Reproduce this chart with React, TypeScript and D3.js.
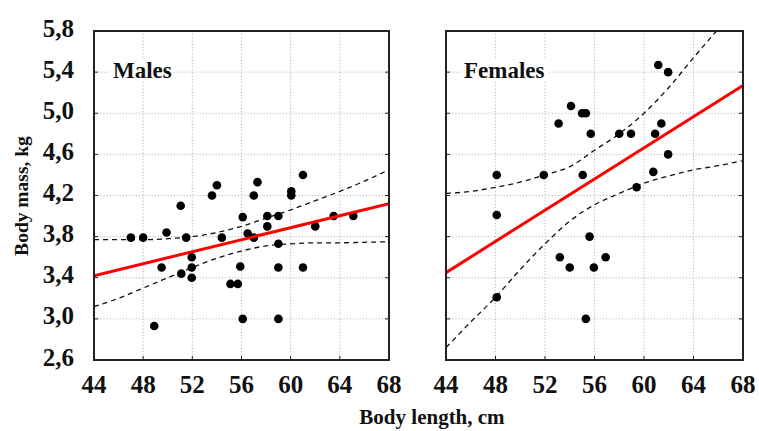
import React, { useEffect, useRef } from "react";
import * as d3 from "d3";

// axis ticks
const xTicks = [44, 48, 52, 56, 60, 64, 68];
const yTicks = [2.6, 3.0, 3.4, 3.8, 4.2, 4.6, 5.0, 5.4, 5.8];

// males: body length (cm), body mass (kg)
const malesLength = [
  47.0, 48.0, 49.9, 51.5, 51.05, 49.5, 48.9, 51.1, 51.95, 51.95, 51.95, 53.6,
  54.0, 54.4, 55.1, 55.7, 56.1, 55.9, 56.1, 56.5, 57.0, 57.0, 57.3, 58.1, 58.1,
  59.0, 59.0, 59.0, 59.0, 60.05, 60.05, 61.0, 61.0, 62.0, 63.5, 65.1,
];
const malesMass = [
  3.79, 3.79, 3.84, 3.79, 4.1, 3.5, 2.93, 3.44, 3.6, 3.5, 3.4, 4.2, 4.3, 3.79,
  3.34, 3.34, 3.99, 3.51, 3.0, 3.83, 3.79, 4.2, 4.33, 4.0, 3.9, 4.0, 3.73, 3.5,
  3.0, 4.24, 4.2, 4.4, 3.5, 3.9, 4.0, 4.0,
];

// females
const femalesLength = [
  48.1, 51.9, 53.1, 54.1, 55.0, 55.3, 55.05, 55.7, 58.0, 58.95, 60.9, 61.4,
  61.15, 61.95, 61.95, 60.75, 59.4, 48.1, 48.1, 53.2, 54.0, 55.6, 55.95, 56.9,
  55.3,
];
const femalesMass = [
  4.4, 4.4, 4.9, 5.07, 5.0, 5.0, 4.4, 4.8, 4.8, 4.8, 4.8, 4.9, 5.47, 5.4, 4.6,
  4.43, 4.28, 4.01, 3.21, 3.6, 3.5, 3.8, 3.5, 3.6, 3.0,
];

// regression lines (ends) and confidence bands
const fitX = [44, 68];
const malesFit = [3.42, 4.12];
const femalesFit = [3.45, 5.27];

const bandX = [44, 46, 48, 50, 52, 54, 56, 58, 60, 62, 64, 66, 68];
const malesUpper = [3.77, 3.77, 3.77, 3.78, 3.8, 3.84, 3.9, 3.98, 4.06, 4.15, 4.24, 4.34, 4.45];
const malesLower = [3.12, 3.2, 3.3, 3.4, 3.5, 3.59, 3.66, 3.71, 3.73, 3.74, 3.74, 3.745, 3.75];
const femalesUpper = [4.22, 4.24, 4.28, 4.33, 4.4, 4.48, 4.64, 4.8, 5.0, 5.25, 5.54, 5.82, 6.1];
const femalesLower = [2.72, 2.97, 3.21, 3.48, 3.73, 3.95, 4.11, 4.22, 4.32, 4.39, 4.45, 4.49, 4.54];

const panels = [
  { name: "Males", xs: malesLength, ys: malesMass, fit: malesFit, upper: malesUpper, lower: malesLower, left: 94, right: 389 },
  { name: "Females", xs: femalesLength, ys: femalesMass, fit: femalesFit, upper: femalesUpper, lower: femalesLower, left: 446, right: 743 },
];

const W = 759;
const H = 431;
const TOP = 31;
const BOTTOM = 360;
const FONT = "'Liberation Serif', 'Times New Roman', serif";

const fmt = (v: number) => d3.format(".1f")(v).replace(".", ",");

export default function App() {
  const svgRef = useRef<SVGSVGElement>(null);

  useEffect(() => {
    const svg = d3.select(svgRef.current);
    svg.selectAll("*").remove();

    const y = d3.scaleLinear().domain([2.6, 5.8]).range([BOTTOM, TOP]);

    panels.forEach((p, pi) => {
      const x = d3.scaleLinear().domain([44, 68]).range([p.left, p.right]);
      const g = svg.append("g");

      const clipId = `clip-${pi}`;
      svg
        .append("defs")
        .append("clipPath")
        .attr("id", clipId)
        .append("rect")
        .attr("x", p.left)
        .attr("y", TOP)
        .attr("width", p.right - p.left)
        .attr("height", BOTTOM - TOP);

      // grid
      g.selectAll(".vgrid")
        .data(xTicks.slice(1, -1))
        .enter()
        .append("line")
        .attr("x1", (d) => x(d))
        .attr("x2", (d) => x(d))
        .attr("y1", TOP)
        .attr("y2", BOTTOM)
        .attr("stroke", "#b5b5b5")
        .attr("stroke-dasharray", "1.2,2")
        .attr("stroke-width", 1);
      g.selectAll(".hgrid")
        .data(yTicks.slice(1, -1))
        .enter()
        .append("line")
        .attr("x1", p.left)
        .attr("x2", p.right)
        .attr("y1", (d) => y(d))
        .attr("y2", (d) => y(d))
        .attr("stroke", "#b5b5b5")
        .attr("stroke-dasharray", "1.2,2")
        .attr("stroke-width", 1);

      // panel label with white backing
      const label = g
        .append("text")
        .attr("x", x(44) + (pi === 0 ? 19 : 18))
        .attr("y", 78)
        .attr("font-family", FONT)
        .attr("font-weight", "bold")
        .attr("font-size", 23)
        .attr("fill", "#111")
        .text(p.name);
      const bb = (label.node() as SVGTextElement).getBBox();
      g.insert("rect", "text")
        .attr("x", bb.x - 3)
        .attr("y", bb.y + 2)
        .attr("width", bb.width + 6)
        .attr("height", bb.height - 4)
        .attr("fill", "white");

      const plot = g.append("g").attr("clip-path", `url(#${clipId})`);

      // confidence bands
      const band = d3
        .line<number>()
        .x((_, i) => x(bandX[i]))
        .y((d) => y(d))
        .curve(d3.curveMonotoneX);
      [p.upper, p.lower].forEach((b) => {
        plot
          .append("path")
          .attr("d", band(b))
          .attr("fill", "none")
          .attr("stroke", "#111")
          .attr("stroke-width", 1.3)
          .attr("stroke-dasharray", "5,4");
      });

      // points
      plot
        .selectAll(".pt")
        .data(p.xs)
        .enter()
        .append("circle")
        .attr("cx", (d) => x(d))
        .attr("cy", (_, i) => y(p.ys[i]))
        .attr("r", 4.3)
        .attr("fill", "#000");

      // regression line
      plot
        .append("line")
        .attr("x1", x(fitX[0]))
        .attr("x2", x(fitX[1]))
        .attr("y1", y(p.fit[0]))
        .attr("y2", y(p.fit[1]))
        .attr("stroke", "#f00")
        .attr("stroke-width", 3);

      // inward ticks
      g.selectAll(".bt")
        .data(xTicks)
        .enter()
        .append("line")
        .attr("x1", (d) => x(d))
        .attr("x2", (d) => x(d))
        .attr("y1", BOTTOM)
        .attr("y2", BOTTOM - 4)
        .attr("stroke", "#222");
      [p.left, p.right].forEach((sx, si) => {
        g.selectAll(`.yt${si}`)
          .data(yTicks)
          .enter()
          .append("line")
          .attr("x1", sx)
          .attr("x2", si === 0 ? sx + 4 : sx - 4)
          .attr("y1", (d) => y(d))
          .attr("y2", (d) => y(d))
          .attr("stroke", "#222");
      });

      // frame
      g.append("rect")
        .attr("x", p.left)
        .attr("y", TOP)
        .attr("width", p.right - p.left)
        .attr("height", BOTTOM - TOP)
        .attr("fill", "none")
        .attr("stroke", "#222")
        .attr("stroke-width", 2);

      // x tick labels
      g.selectAll(".xl")
        .data(xTicks)
        .enter()
        .append("text")
        .attr("x", (d) => x(d))
        .attr("y", 393)
        .attr("text-anchor", "middle")
        .attr("font-family", FONT)
        .attr("font-weight", "bold")
        .attr("font-size", 25)
        .attr("fill", "#111")
        .text((d) => d);
    });

    // y tick labels
    svg
      .selectAll(".yl")
      .data(yTicks)
      .enter()
      .append("text")
      .attr("x", 74)
      .attr("y", (d) => y(d) + 5.5)
      .attr("text-anchor", "end")
      .attr("font-family", FONT)
      .attr("font-weight", "bold")
      .attr("font-size", 25)
      .attr("fill", "#111")
      .text((d) => fmt(d));

    // axis titles
    svg
      .append("text")
      .attr("x", 432)
      .attr("y", 424)
      .attr("text-anchor", "middle")
      .attr("font-family", FONT)
      .attr("font-weight", "bold")
      .attr("font-size", 21)
      .attr("fill", "#111")
      .text("Body length, cm");
    svg
      .append("text")
      .attr("transform", "translate(28,196) rotate(-90)")
      .attr("text-anchor", "middle")
      .attr("font-family", FONT)
      .attr("font-weight", "bold")
      .attr("font-size", 19.5)
      .attr("fill", "#111")
      .text("Body mass, kg");
  }, []);

  return (
    <svg
      ref={svgRef}
      width={W}
      height={H}
      style={{ position: "absolute", left: 0, top: 0, background: "#fff" }}
    ></svg>
  );
}
